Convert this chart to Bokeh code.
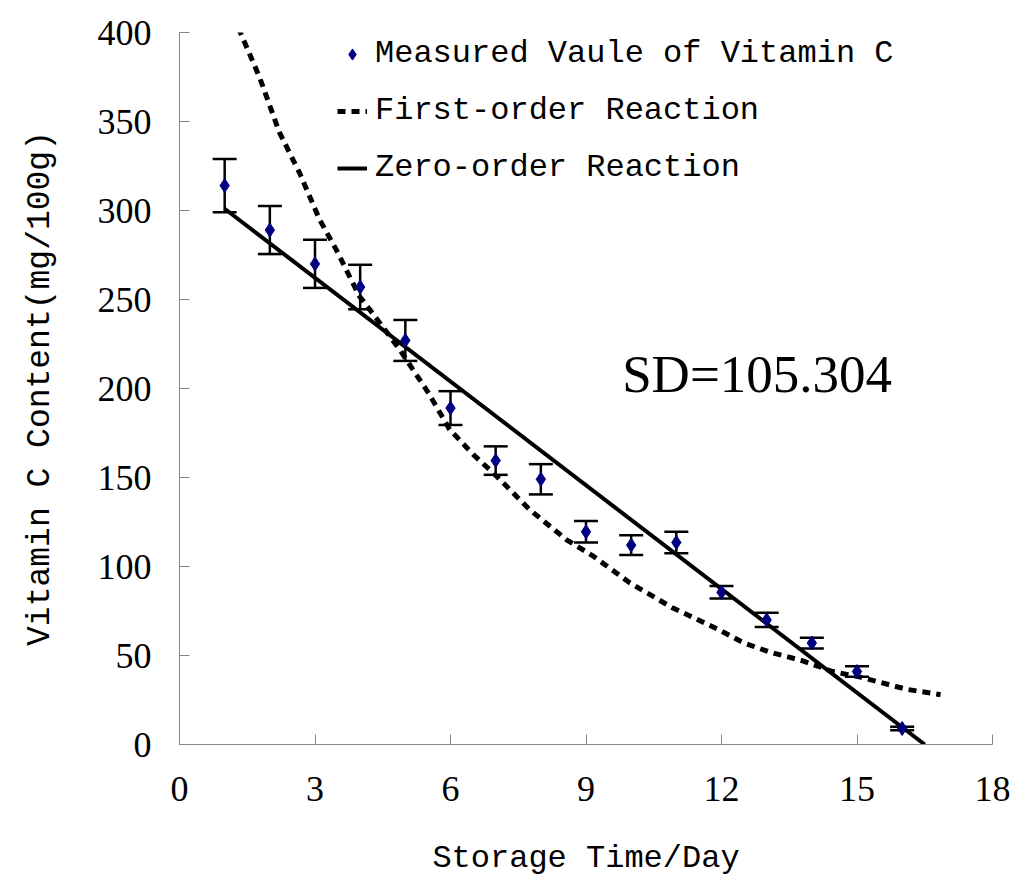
from bokeh.plotting import figure
from bokeh.models import (ColumnDataSource, Whisker, TeeHead, Legend, LegendItem,
                          Label, FixedTicker)
from bokeh.embed import file_html
from bokeh.resources import INLINE

# ---------------- data ----------------
days = [1, 2, 3, 4, 5, 6, 7, 8, 9, 10, 11, 12, 13, 14, 15, 16]
vitamin_c = [314, 289, 270, 257, 227, 189, 159.5, 149, 119.5, 112, 113.5, 85.5, 70, 57, 41, 9]
err = [15, 13.5, 13.5, 12.5, 11.5, 9.5, 8, 8.5, 6, 5.5, 6, 3.5, 4, 3, 3, 1]

first_x = [1.0, 1.33, 1.77, 2.21, 2.66, 3.1, 3.47, 3.98, 4.43, 4.87, 5.5, 5.98, 6.5,
           7.01, 7.75, 8.57, 9.15, 9.96, 10.9, 11.9, 12.5, 13.06, 13.8, 14.46, 15.05,
           16.1, 16.85]
first_y = [425, 401, 375, 344, 321, 295, 278, 252, 237, 222, 198, 177, 163,
           151, 132, 115, 106, 91, 77, 65, 57, 52, 47, 41, 38,
           31, 28]

zero_x = [1.0, 16.5]
zero_y = [301, 0]

x_ticks = [0, 3, 6, 9, 12, 15, 18]
y_ticks = [0, 50, 100, 150, 200, 250, 300, 350, 400]

sd_text = "SD=105.304"

# ---------------- figure ----------------
p = figure(frame_width=813, frame_height=712, x_range=(0, 18), y_range=(0, 400),
           min_border_left=179, min_border_right=23, min_border_top=32,
           min_border_bottom=135, output_backend="svg", toolbar_location=None,
           background_fill_color="white", border_fill_color="white")
p.outline_line_color = None
p.grid.grid_line_color = None

for ax in (p.xaxis[0], p.yaxis[0]):
    ax.axis_line_color = "#868686"
    ax.axis_line_width = 1
    ax.major_tick_line_color = "#868686"
    ax.major_tick_in = 10
    ax.major_tick_out = 0
    ax.minor_tick_line_color = None
    ax.major_label_text_font = "Liberation Serif"
    ax.major_label_text_font_size = "36px"
    ax.major_label_text_color = "black"
    ax.axis_label_text_font = "Liberation Mono"
    ax.axis_label_text_font_style = "normal"
    ax.axis_label_text_color = "black"

p.xaxis.ticker = FixedTicker(ticks=x_ticks)
p.yaxis.ticker = FixedTicker(ticks=y_ticks)
p.xaxis.axis_label = "Storage Time/Day"
p.yaxis.axis_label = "Vitamin C Content(mg/100g)"
p.xaxis.axis_label_text_font_size = "32px"
p.yaxis.axis_label_text_font_size = "33px"
p.xaxis.major_label_standoff = 32
p.yaxis.major_label_standoff = 28
p.xaxis.axis_label_standoff = 36
p.yaxis.axis_label_standoff = 36

# error bars
src = ColumnDataSource(dict(
    x=days, y=vitamin_c,
    upper=[v + e for v, e in zip(vitamin_c, err)],
    lower=[v - e for v, e in zip(vitamin_c, err)],
))
wh = Whisker(base="x", upper="upper", lower="lower", source=src,
             line_color="black", line_width=2.5, level="underlay",
             upper_head=TeeHead(size=24, line_width=2.5, line_color="black"),
             lower_head=TeeHead(size=24, line_width=2.5, line_color="black"))
p.add_layout(wh)

r_zero = p.line(zero_x, zero_y, line_color="black", line_width=4)
r_first = p.line(first_x, first_y, line_color="black", line_width=5,
                 line_dash="8 6", line_cap="butt")
r_meas = p.scatter("x", "y", source=src, marker="diamond", size=14,
                   fill_color="#000080", line_color="#000080")

legend = Legend(items=[
    LegendItem(label="Measured Vaule of Vitamin C", renderers=[r_meas]),
    LegendItem(label="First-order Reaction", renderers=[r_first]),
    LegendItem(label="Zero-order Reaction", renderers=[r_zero]),
], location=(158, 558))
legend.border_line_color = None
legend.background_fill_alpha = 0
legend.padding = 0
legend.margin = 0
legend.spacing = 20
legend.glyph_width = 30
legend.glyph_height = 28
legend.label_height = 28
legend.label_standoff = 8
legend.label_text_font = "Liberation Mono"
legend.label_text_font_size = "32px"
legend.label_text_color = "black"
p.add_layout(legend)

sd = Label(x=9.8, y=208, text=sd_text, text_font="Liberation Serif",
           text_font_size="53px", text_color="black", text_baseline="alphabetic")
p.add_layout(sd)

open("out.html", "w").write(file_html(p, INLINE))
